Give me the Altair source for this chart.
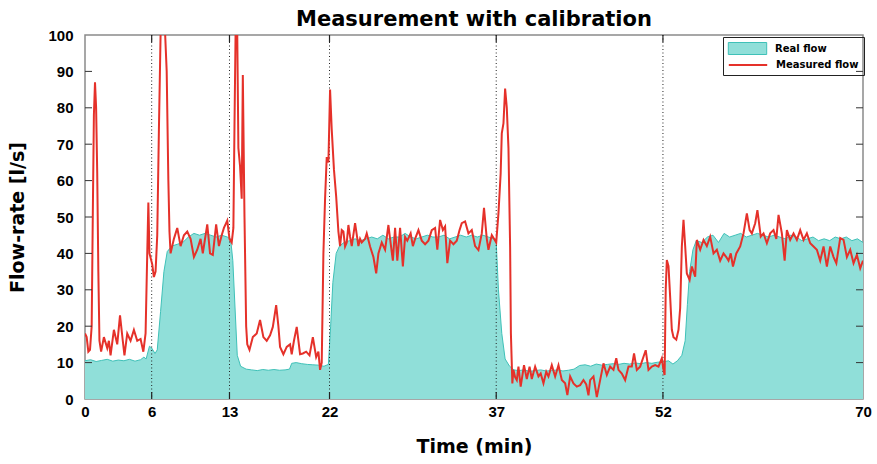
import altair as alt
import pandas as pd

# ---------------- data ----------------
real_t = [0, 0.5, 1, 1.5, 2, 2.5, 3, 3.5, 4, 4.5, 5, 5.3, 5.5, 5.8, 6.0, 6.3, 6.5, 6.8, 7.1, 7.4,
          7.8, 8.3, 8.8, 9.3, 9.8, 10.3, 10.8, 11.3, 11.8, 12.3, 12.8, 13.1, 13.3, 13.5, 13.7, 14.0,
          14.5, 15, 15.5, 16, 16.5, 17, 17.5, 18, 18.4, 18.6, 19, 19.5, 20, 20.5, 21, 21.5, 21.9,
          22.1, 22.3, 22.6, 22.9, 23.3, 23.8, 24.3, 24.8, 25.3, 25.8, 26.3, 26.8, 27.3, 27.8, 28.3,
          28.8, 29.3, 29.8, 30.3, 30.8, 31.3, 31.8, 32.3, 32.8, 33.3, 33.8, 34.3, 34.8, 35.3, 35.8,
          36.3, 36.8, 37.0, 37.2, 37.5, 37.8, 38.2, 38.6, 39, 39.5, 40, 40.5, 41, 41.5, 42, 42.5, 43,
          43.5, 44, 44.5, 45, 45.5, 46, 46.5, 47, 47.5, 48, 48.5, 49, 49.5, 50, 50.5, 51, 51.5, 52,
          52.5, 52.9, 53.3, 53.7, 54.0, 54.2, 54.4, 54.7, 55.0, 55.5, 56, 56.5, 57, 57.5, 58, 58.5,
          59, 59.5, 60, 60.5, 61, 61.5, 62, 62.5, 63, 63.5, 64, 64.5, 65, 65.5, 66, 66.5, 67, 67.5,
          68, 68.5, 69, 69.5, 70]
real_v = [10.5, 10.8, 10.3, 10.6, 10.9, 10.4, 10.7, 10.5, 10.9, 10.4, 10.8, 11.5, 11.0, 14.5, 14.0,
          12.5, 13.5, 24, 35, 40.5, 42, 42.5, 43, 44.5, 45.5, 45, 45.5, 45, 44.5, 45, 44.5, 44, 38,
          25, 12, 9, 8.2, 8, 7.8, 8.1, 7.9, 8.1, 7.9, 8, 8.2, 9.8, 10, 9.7, 9.5, 9.4, 9.3, 9, 9.5,
          20, 32, 40, 42, 43, 43.5, 44, 43.5, 44, 44.5, 44, 45, 44, 44.5, 44.5, 45.5, 44.5, 44,
          44.5, 45, 44.5, 44.5, 45, 44, 44.5, 45, 44.5, 45, 44.5, 45, 44.5, 44, 43, 30, 18, 11, 9,
          8, 7.8, 8, 7.6, 7.8, 8, 7.7, 7.8, 8, 7.7, 7.9, 8.2, 9.2, 9.4, 9, 9.6, 9.3, 9.5, 9.7, 9.5,
          9.8, 9.6, 9.9, 9.7, 10, 9.8, 10.1, 10.2, 10.5, 9.6, 10.5, 12, 16, 26, 35, 41, 43.5, 43,
          44.5, 45, 43, 45.5, 44.5, 45, 45.5, 44.5, 45, 45.5, 45, 44.5, 45, 44.5, 44, 45, 44.5,
          43.5, 44, 44.5, 43.5, 44, 43.5, 44.5, 44, 44.5, 43.5, 44, 43]

meas_t = [0, 0.15, 0.3, 0.45, 0.6, 0.7, 0.8, 0.9, 1.0, 1.1, 1.2, 1.3, 1.45, 1.7, 2.0, 2.15, 2.3,
          2.6, 2.9, 3.15, 3.4, 3.55, 3.8, 4.1, 4.4, 4.7, 5.0, 5.25, 5.45, 5.6, 5.7, 5.8, 6.05, 6.2,
          6.35, 6.5, 6.65, 6.8, 6.9, 7.2, 7.35, 7.5, 7.6, 7.7, 8.0, 8.3, 8.6, 8.9, 9.2, 9.5, 9.8,
          10.1, 10.4, 10.6, 10.75, 11.0, 11.25, 11.5, 11.8, 12.05, 12.3, 12.5, 12.8, 13.0, 13.2,
          13.35, 13.45, 13.55, 13.7, 13.8, 13.95, 14.1, 14.2, 14.35, 14.5, 14.6, 14.8, 15.1, 15.45,
          15.75, 16.05, 16.35, 16.65, 16.9, 17.2, 17.4, 17.55, 17.85, 18.15, 18.45, 18.6, 18.8,
          19.05, 19.35, 19.6, 19.9, 20.2, 20.5, 20.8, 21.0, 21.15, 21.3, 21.45, 21.6, 21.75, 21.9,
          22.05, 22.2, 22.4, 22.6, 22.8, 22.95, 23.1, 23.25, 23.4, 23.55, 23.7, 23.85, 24.0, 24.3,
          24.6, 24.75, 24.9, 25.2, 25.35, 25.65, 25.95, 26.2, 26.4, 26.7, 27.0, 27.3, 27.45, 27.7,
          27.9, 28.1, 28.35, 28.6, 28.8, 29.0, 29.3, 29.5, 29.7, 30.0, 30.3, 30.6, 30.9, 31.2,
          31.5, 31.7, 31.95, 32.2, 32.4, 32.6, 32.85, 33.15, 33.45, 33.7, 33.9, 34.2, 34.5, 34.8,
          35.1, 35.4, 35.7, 35.9, 36.15, 36.3, 36.6, 36.8, 37.0, 37.2, 37.4, 37.5, 37.65, 37.8,
          37.95, 38.1, 38.25, 38.32, 38.45, 38.55, 38.7, 38.85, 39.0, 39.2, 39.5, 39.75, 40.0,
          40.2, 40.5, 40.8, 41.0, 41.25, 41.5, 41.7, 42.0, 42.3, 42.6, 42.9, 43.2, 43.4, 43.65,
          43.95, 44.25, 44.55, 44.85, 45.1, 45.3, 45.45, 45.75, 46.05, 46.35, 46.65, 46.95, 47.25,
          47.55, 47.8, 48.0, 48.3, 48.6, 48.9, 49.2, 49.4, 49.65, 49.95, 50.25, 50.45, 50.7, 51.0,
          51.3, 51.6, 51.9, 52.05, 52.15, 52.25, 52.35, 52.5, 52.65, 52.8, 52.95, 53.2, 53.4,
          53.55, 53.7, 53.85, 54.0, 54.15, 54.4, 54.6, 54.9, 55.05, 55.35, 55.65, 55.95, 56.25,
          56.55, 56.85, 57.15, 57.45, 57.7, 57.9, 58.1, 58.3, 58.6, 58.95, 59.25, 59.55, 59.8,
          60.0, 60.3, 60.5, 60.8, 61.05, 61.35, 61.65, 61.95, 62.2, 62.4, 62.7, 62.95, 63.15,
          63.45, 63.75, 64.05, 64.35, 64.65, 64.95, 65.25, 65.55, 65.85, 66.15, 66.45, 66.75,
          67.05, 67.35, 67.6, 67.95, 68.25, 68.55, 68.85, 69.15, 69.45, 69.75, 70.0]
meas_v = [18, 17, 13, 13.5, 20, 50, 78, 87, 80, 62, 35, 16, 13, 17, 14, 16, 12, 19, 15, 23, 16, 12,
          18, 16, 19, 16, 16.5, 13, 18, 40, 54, 40, 37, 33.5, 35, 45, 74, 100, 101, 101, 90, 60, 46,
          40, 44, 47, 42, 45, 46, 44, 39, 41, 44, 40, 43, 48, 40, 39.6, 48, 42, 45, 47, 49, 44, 43,
          47, 75, 101, 100, 69, 64, 55, 89, 50, 20, 15, 13.5, 17, 18, 21.7, 17, 16, 17.5, 19.8,
          25.8, 20, 14.3, 12.3, 14.3, 15, 12.3, 16, 19.8, 12.3, 12.5, 13, 12, 17, 11.5, 13, 8, 10,
          40, 55, 66.5, 65, 85, 74, 63, 55.6, 46, 42, 46.4, 46, 41.9, 43, 47.8, 44.6, 42, 48.3, 42,
          44, 43, 44, 45.5, 41.9, 39, 34.5, 40, 43, 41, 47.8, 44, 38, 47, 38, 47, 36.4, 44.5, 43.5,
          45.5, 42, 44, 46.4, 43.5, 42.5, 43.5, 46.4, 47, 41, 49.2, 46.4, 47.4, 37.3, 43.5, 42.5,
          43.5, 46.4, 48.3, 48.8, 45.5, 46.4, 42, 40.9, 45.5, 52.5, 44, 41, 45, 44, 43, 51, 62, 73,
          75.7, 85.3, 80, 69, 41.8, 18, 4.3, 8, 6, 5.2, 8.9, 3.4, 9.3, 5.5, 8.9, 5.5, 8.9, 6.2, 7,
          4.3, 7.5, 6.2, 9.3, 6.2, 9.3, 5.2, 4.3, 1.1, 6.2, 4.3, 3.4, 3.8, 5.2, 4, 1, 5.2, 6.2, 0.5,
          5.2, 9.8, 6.6, 8.9, 8, 11.2, 8, 7, 5.2, 8.9, 8.9, 12.5, 8, 8.9, 11.6, 13.4, 8, 8.9, 9.3,
          8.9, 11.2, 8, 6.6, 30, 38.2, 36.5, 28, 19, 17, 16.3, 19, 25, 41.9, 49.2, 42, 34.5, 32.7,
          36.4, 33.6, 43.7, 41, 43.7, 42, 44.6, 40, 41, 38, 40, 39, 38, 40, 36.4, 40, 41.9, 45.5,
          51, 46.4, 45.5, 48.3, 51.9, 44.6, 45.5, 42.8, 45.5, 46.4, 44, 50.6, 45.5, 38, 46.4, 43.7,
          45.5, 43.7, 46.4, 43.7, 45.5, 42.8, 41.9, 41, 38, 41.9, 36.4, 41.9, 39, 37.3, 44.2, 43.7,
          39, 41, 37.3, 39.6, 35.9, 38]

series_names = ["Real flow", "Measured flow"]
x_ticks = [0, 6, 13, 22, 37, 52, 70]
marker_times = [6, 13, 22, 37, 52]
y_ticks = [0, 10, 20, 30, 40, 50, 60, 70, 80, 90, 100]
y_inner_ticks = [10, 20, 30, 40, 50, 60, 70, 80, 90]

# ---------------- styling ----------------
W, H = 778, 364
TEAL_FILL = "#90dfd9"
TEAL_EDGE = "#3fc1b8"
RED = "#e5312a"
FONT = "DejaVu Sans"
TICK_FONT = "Liberation Sans"

df_real = pd.DataFrame({"t": real_t, "v": real_v, "series": series_names[0]})
df_meas = pd.DataFrame({"t": meas_t, "v": meas_v, "series": series_names[1]})
df_marks = pd.DataFrame({"t": marker_times})
df_yt = pd.DataFrame({"v": y_inner_ticks})

x_scale = alt.Scale(domain=[0, 70], nice=False, zero=False)
y_scale = alt.Scale(domain=[0, 100], nice=False)

RECT_PATH = "M-3.2,-1H3.2V1H-3.2Z"
LINE_PATH = "M-3.2,0H3.2"

legend_real = alt.Legend(
    title=None, orient="none", legendX=638, legendY=2, padding=5,
    labelFont=FONT, labelFontWeight="bold", labelFontSize=10, labelColor="black",
    symbolSize=144, symbolOffset=13, labelOffset=21, symbolType=RECT_PATH,
    symbolStrokeColor=TEAL_EDGE, symbolStrokeWidth=1, symbolOpacity=1,
)
legend_meas = alt.Legend(
    title=" ", titleOrient="top", titleFontSize=10, titlePadding=6,
    orient="none", legendX=638, legendY=2, padding=5,
    strokeColor="#222222",
    labelFont=FONT, labelFontWeight="bold", labelFontSize=10, labelColor="black",
    symbolSize=144, symbolOffset=13, labelOffset=21, symbolType=LINE_PATH,
    symbolStrokeWidth=2, symbolOpacity=1,
)

x_axis = alt.Axis(values=x_ticks, title="Time (min)", grid=False, ticks=False,
                  domain=False, labelFlush=False, labelOverlap=False, labelPadding=5,
                  labelFont=TICK_FONT, labelFontSize=15, labelFontWeight="bold", labelColor="black",
                  titleFont=FONT, titleFontSize=19, titleFontWeight="bold", titleColor="black",
                  titlePadding=18)
y_axis = alt.Axis(values=y_ticks, title="Flow-rate [l/s]", grid=False, ticks=False,
                  domain=False, labelFlush=False, labelOverlap=False, labelPadding=12,
                  labelFont=TICK_FONT, labelFontSize=15, labelFontWeight="bold", labelColor="black",
                  titleFont=FONT, titleFontSize=19, titleFontWeight="bold", titleColor="black",
                  titlePadding=20)

X = alt.X("t:Q", scale=x_scale, axis=x_axis)
Y = alt.Y("v:Q", scale=y_scale, axis=y_axis)

area = alt.Chart(df_real).mark_area(opacity=1, clip=True).encode(
    x=X, y=Y,
    fill=alt.Fill("series:N", scale=alt.Scale(domain=[series_names[0]], range=[TEAL_FILL]),
                  legend=legend_real),
)
area_edge = alt.Chart(df_real).mark_line(color=TEAL_EDGE, strokeWidth=1, clip=True).encode(x=X, y=Y)
markers = alt.Chart(df_marks).mark_rule(color="#222222", strokeWidth=1, strokeDash=[1, 2.5]).encode(x=X)
meas = alt.Chart(df_meas).mark_line(strokeWidth=2, clip=True).encode(
    x=X, y=Y,
    stroke=alt.Stroke("series:N", scale=alt.Scale(domain=[series_names[1]], range=[RED]),
                      legend=legend_meas),
)
tick_left = alt.Chart(df_yt).mark_rule(color="#333333", strokeWidth=1).encode(
    y=Y, x=alt.value(0), x2=alt.value(7))
tick_right = alt.Chart(df_yt).mark_rule(color="#333333", strokeWidth=1).encode(
    y=Y, x=alt.value(W - 7), x2=alt.value(W))
tick_bottom = alt.Chart(df_marks).mark_rule(color="#222222", strokeWidth=1.2).encode(
    x=X, y=alt.value(H - 7), y2=alt.value(H))
tick_top = alt.Chart(df_marks).mark_rule(color="#222222", strokeWidth=1.2).encode(
    x=X, y=alt.value(0), y2=alt.value(7))

chart = alt.layer(area, area_edge, markers, meas, tick_left, tick_right, tick_bottom, tick_top).properties(
    width=W, height=H,
    autosize=alt.AutoSizeParams(type="none"),
    padding={"left": 85, "top": 35, "right": 14, "bottom": 65},
    title=alt.TitleParams("Measurement with calibration", font=FONT, fontSize=21,
                          fontWeight="bold", color="black", anchor="middle", frame="group",
                          baseline="alphabetic", offset=2, dy=21),
).configure(background="white").configure_view(stroke="#8a8a8a", strokeWidth=1.5)

chart.save("out.html", embed_options={"renderer": "svg", "actions": False})
